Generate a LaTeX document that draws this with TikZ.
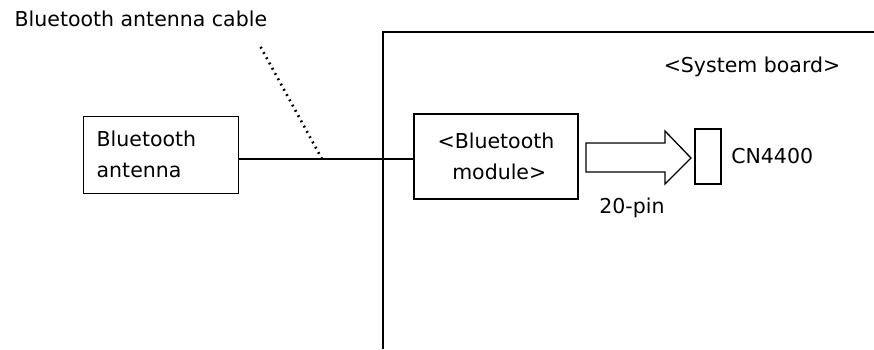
\documentclass[tikz,border=0pt]{standalone}
\usepackage{fontspec}
\setmainfont{DejaVu Sans}
\usetikzlibrary{positioning}
\tikzset{lbl/.style={font=\fontsize{20.5}{31}\selectfont,inner sep=0pt},
  boxed/.style={lbl,draw,line width=1.3pt}}

\begin{document}
\begin{tikzpicture}[x=1pt,y=-1pt,line width=1.3pt]
\useasboundingbox(0,0)rectangle(874,349);
\draw(383,349)--(383,32)--(874,32);
\node[lbl](sb)at(752,67){<System board>};
\node[lbl,anchor=west](cbl)at(14,19){Bluetooth antenna cable};
\node[boxed,align=left,text width=129,inner xsep=13,minimum height=77,anchor=north west](ant)at(83,115.5){Bluetooth\\antenna};
\node[boxed,align=center,minimum width=164,minimum height=85](mod)at(496,156.5){<Bluetooth\\\ module>};
\node[boxed,minimum width=26,minimum height=55](cn)at(708,156.5){};
\node[lbl,right=9 of cn](cnl){CN4400};
\node[lbl](pin)at(632,208){20-pin};
\coordinate(j)at(322,159);\coordinate(d)at(259,44);
\draw(ant.east|-j)--(j)--(mod.west|-j);
\draw[line width=2.6pt,dash pattern=on 1.8pt off 4.2pt](j)--(d);
\draw(586,143)--(665,143)--(665,131)--(691,158)--(665,184)--(665,172)--(586,172)--cycle;
\end{tikzpicture}
\end{document}
